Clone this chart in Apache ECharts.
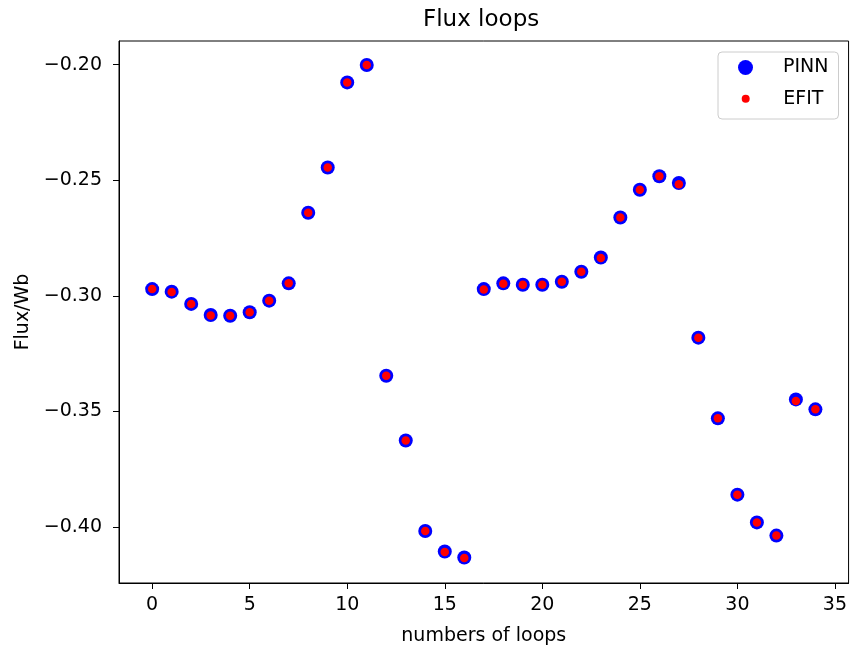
<!DOCTYPE html>
<html>
<head>
<meta charset="utf-8">
<script src="https://cdn.jsdelivr.net/npm/echarts@6/dist/echarts.min.js"></script>
<style>html,body{margin:0;padding:0;background:#fff}#c{width:850px;height:651px}</style>
</head>
<body>
<div id="c"></div>
<script>
const loops = [0,1,2,3,4,5,6,7,8,9,10,11,12,13,14,15,16,17,18,19,20,21,22,23,24,25,26,27,28,29,30,31,32,33,34];
const pinn = [-0.2971,-0.2982,-0.3035,-0.3083,-0.3086,-0.3071,-0.3021,-0.2946,-0.2641,-0.2445,-0.2077,-0.2002,-0.3346,-0.3626,-0.4017,-0.4106,-0.4132,-0.2971,-0.2946,-0.2952,-0.2952,-0.2939,-0.2896,-0.2834,-0.2661,-0.2541,-0.2483,-0.2512,-0.3181,-0.3530,-0.3860,-0.3980,-0.4037,-0.3448,-0.3491];
const efit = [-0.2971,-0.2984,-0.3035,-0.3085,-0.3086,-0.3071,-0.3021,-0.2946,-0.2641,-0.2445,-0.2077,-0.2002,-0.3346,-0.3626,-0.4017,-0.4108,-0.4134,-0.2973,-0.2948,-0.2952,-0.2952,-0.2939,-0.2896,-0.2836,-0.2661,-0.2541,-0.2483,-0.2517,-0.3181,-0.3530,-0.3860,-0.3980,-0.4037,-0.3455,-0.3491];
const xTicks = [0,5,10,15,20,25,30,35];
const yTicks = [-0.40,-0.35,-0.30,-0.25,-0.20];
const seriesNames = ['PINN','EFIT'];

const font = 'DejaVu Sans';
const chart = echarts.init(document.getElementById('c'), null, {renderer:'canvas'});
const fmtY = v => (v < 0 ? '\u2212' : '') + Math.abs(v).toFixed(2);
chart.setOption({
  animation: false,
  backgroundColor: '#fff',
  title: {
    text: 'Flux loops', left: 423, top: 9, padding: 0,
    textStyle: {fontFamily: font, fontSize: 23, fontWeight: 'normal', color: '#000'}
  },
  grid: {left: 119, right: 1, top: 41, bottom: 66, show: true, borderColor: '#000', borderWidth: 1, backgroundColor: 'transparent'},
  xAxis: {
    type: 'value', min: -1.7, max: 35.7,
    name: 'numbers of loops', nameLocation: 'middle', nameGap: 44,
    nameTextStyle: {fontFamily: font, fontSize: 19, color: '#000'},
    axisLine: {show: true, onZero: false, lineStyle: {color: '#000', width: 1}},
    axisTick: {show: true, inside: false, length: 6, customValues: xTicks, lineStyle: {color: '#000'}},
    axisLabel: {customValues: xTicks, margin: 13, fontFamily: font, fontSize: 19, color: '#000', formatter: v => String(v)},
    splitLine: {show: false}
  },
  yAxis: {
    type: 'value', min: -0.4242, max: -0.1898,
    name: 'Flux/Wb', nameLocation: 'middle', nameGap: 82, nameRotate: 90,
    nameTextStyle: {fontFamily: font, fontSize: 19, color: '#000'},
    axisLine: {show: true, onZero: false, lineStyle: {color: '#000', width: 1}},
    axisTick: {show: true, inside: false, length: 6, customValues: yTicks, lineStyle: {color: '#000'}},
    axisLabel: {customValues: yTicks, margin: 17, fontFamily: font, fontSize: 19, color: '#000', formatter: fmtY},
    splitLine: {show: false}
  },
  legend: [
    {
      data: [seriesNames[0]], orient: 'vertical', left: 718, top: 52,
      padding: [6, 10, 42, 20], itemWidth: 15, itemHeight: 15, icon: 'circle',
      selectedMode: false, borderColor: '#cccccc', borderWidth: 1, borderRadius: 4,
      backgroundColor: 'rgba(255,255,255,0.8)',
      textStyle: {fontFamily: font, fontSize: 19, lineHeight: 19, color: '#000', padding: [0,0,0,25]}
    },
    {
      data: [seriesNames[1]], orient: 'vertical', left: 741.7, top: 89.2,
      padding: 0, itemWidth: 8, itemHeight: 8, icon: 'circle', selectedMode: false,
      textStyle: {fontFamily: font, fontSize: 19, lineHeight: 19, color: '#000', padding: [0,0,0,28.6]}
    }
  ],
  series: [
    {name: seriesNames[0], type: 'scatter', symbol: 'circle', symbolSize: 14,
     itemStyle: {color: '#0000ff', opacity: 1}, data: loops.map((x, i) => [x, pinn[i]]), z: 2},
    {name: seriesNames[1], type: 'scatter', symbol: 'circle', symbolSize: 8.5,
     itemStyle: {color: '#ff0000', opacity: 1}, data: loops.map((x, i) => [x, efit[i]]), z: 3}
  ]
});
</script>
</body>
</html>
